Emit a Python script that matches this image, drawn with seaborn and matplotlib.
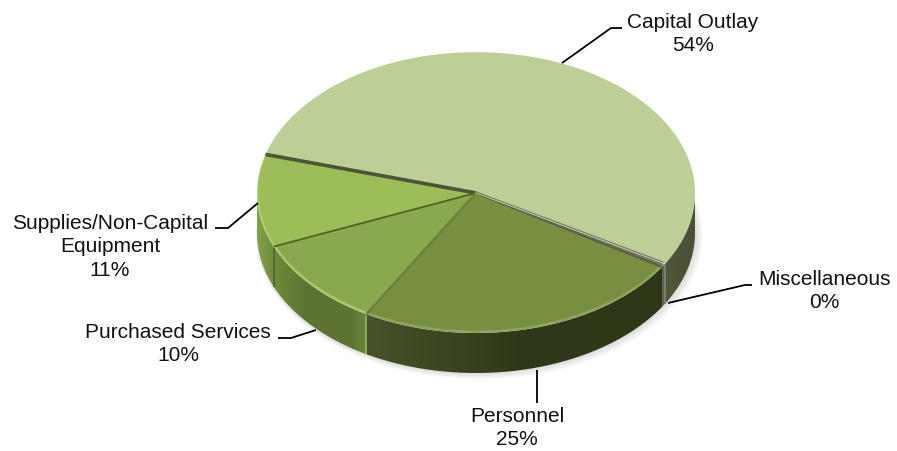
import numpy as np
import matplotlib
matplotlib.use("Agg")
import matplotlib.pyplot as plt
from matplotlib.patches import Polygon
import seaborn as sns

sns.set_theme(style="white")
plt.rcParams['font.family'] = ['Liberation Sans', 'DejaVu Sans']

categories = ["Capital Outlay", "Miscellaneous", "Personnel", "Purchased Services", "Supplies/Non-Capital\nEquipment"]
shares = [54, 0.4, 24.5, 10.4, 10.7]
share_labels = ["54%", "0%", "25%", "10%", "11%"]

top_colors = ["#BBCF97", "#6E7260", "#788F42", "#8AA84E", "#9DBD59"]
rim_colors = ["#BBCF97", "#8A8E78", "#8CA45A", "#A9C76A", "#AECE6C"]
wall_stops = [
    ["#4F5639", "#4A5035"],
    ["#5C6148", "#5C6148"],
    ["#46522A", "#3C4622", "#2F3919", "#2E3818", "#2E3818"],
    ["#6F8B3A", "#667E36", "#5E7332", "#5E7332", "#5E7332", "#5E7332", "#6C853A"],
    ["#83A049", "#7A9643", "#718C3E"],
]

W, H = 897, 451
CX, CY = 476, 193      # centre of the top face, pixels
RX, RY = 219, 140      # radii of the top face, pixels
DEPTH = 40 / RY


def px(x, y):
    return (x - CX) / RX, (CY - y) / RY


fig = plt.figure(figsize=(W / 100, H / 100), dpi=100)
ax = fig.add_axes([0, 0, 1, 1])


def set_view():
    ax.set_aspect('auto')
    ax.set_xlim(px(0, 0)[0], px(W, 0)[0])
    ax.set_ylim(px(0, H)[1], px(0, 0)[1])
    ax.axis('off')


# soft shadow under the pie
for i in range(4):
    ax.pie([1], radius=1 + 0.005 * (4 - i), center=(0.004 * (4 - i), -DEPTH - 0.006 * (4 - i)),
           colors=["#000000"], wedgeprops=dict(alpha=0.03, linewidth=0, zorder=1))
set_view()

# reference pie, gives the slice angles
wedges, _ = ax.pie(shares, startangle=164, counterclock=False, colors=top_colors,
                   wedgeprops=dict(linewidth=0, zorder=5))
set_view()

# side walls, only the part of each slice that faces the viewer
for w, stops in zip(wedges, wall_stops):
    t1, t2 = w.theta1 % 360, w.theta2 % 360
    if t2 <= t1:
        t2 += 360
    spans = [(max(t1, 180), min(t2, 360)), (max(t1, 540), min(t2, 720))]
    for a, b in spans:
        if b <= a:
            continue
        th = np.radians(np.linspace(a, b, 80))
        xs, ys = np.cos(th), np.sin(th)
        pts = np.vstack([np.column_stack([xs, ys]), np.column_stack([xs[::-1], ys[::-1] - DEPTH])])
        grad = sns.blend_palette(stops, n_colors=64)
        im = ax.imshow(np.array([grad]), extent=(xs.min(), xs.max(), ys.min() - DEPTH, ys.max()),
                       aspect='auto', interpolation='bilinear', zorder=3)
        im.set_clip_path(Polygon(pts, transform=ax.transData))
set_view()

# light rim along the front of the top face
ax.pie(shares, startangle=164, counterclock=False, colors=rim_colors,
       wedgeprops=dict(linewidth=0, zorder=4))
for w in wedges:
    w.set_center((0, 0.012))
    w.set_radius(0.994)
set_view()


def edge_point(angle):
    return np.cos(np.radians(angle)), np.sin(np.radians(angle))


# slice dividers on the top face
divider_styles = [
    (wedges[0].theta2, "#4E5438", 2.6),
    (wedges[1].theta1, "#5C6148", 1.8),
    (wedges[3].theta1, "#4F6129", 1.2),
    (wedges[2].theta1, "#6B8238", 1.8),
]
for angle, color, lw in divider_styles:
    x, y = edge_point(angle)
    ax.plot([0, x], [0, y], color=color, lw=lw, solid_capstyle='butt', zorder=6)
x, y = edge_point(wedges[0].theta1)
ax.plot([0, x], [0, y], color="#D8DCC8", lw=0.6, zorder=7)

# seams on the wall
for angle, color in [(wedges[2].theta1, "#8FA95A"), (wedges[3].theta1, "#55692C"), (wedges[0].theta1, "#7C8070")]:
    x, y = edge_point(angle)
    ax.plot([x, x], [y - 0.01, y - DEPTH], color=color, lw=1.4, solid_capstyle='butt', zorder=6)

# leader lines and labels
leaders = [
    [(562, 63), (611, 28), (622, 28)],
    [(668, 303), (745, 285), (752, 285)],
    [(537, 370), (537, 403)],
    [(316, 330), (291, 338), (278, 338)],
    [(258, 203), (228, 228), (215, 228)],
]
label_pos = [(693, 34), (824, 291), (517, 428), (178, 344), (110, 247)]
for cat, lab, path, (tx, ty) in zip(categories, share_labels, leaders, label_pos):
    pts = np.array([px(*p) for p in path])
    ax.plot(pts[:, 0], pts[:, 1], color="black", lw=1.3, solid_capstyle='butt', zorder=8)
    lx, ly = px(tx, ty)
    ax.text(lx, ly, f"{cat}\n{lab}", ha='center', va='center', fontsize=15,
            color="#111111", linespacing=1.33, zorder=9)
set_view()

fig.savefig("out.png", dpi=100, facecolor="white")
